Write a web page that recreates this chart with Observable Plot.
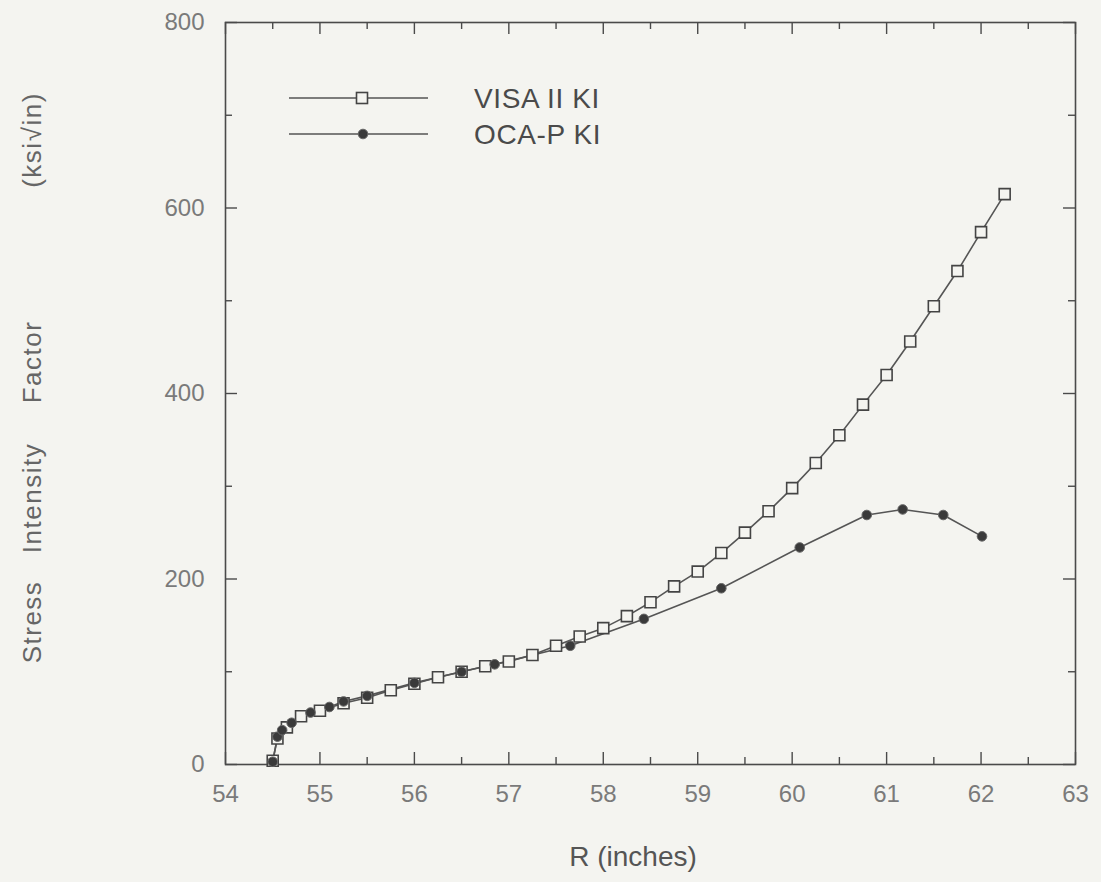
<!DOCTYPE html>
<html><head><meta charset="utf-8">
<script src="https://cdn.jsdelivr.net/npm/d3@7"></script>
<script src="https://cdn.jsdelivr.net/npm/@observablehq/plot@0.6"></script>
<style>
body{margin:0;background:#f4f4f0;}
#chart{position:relative;width:1101px;height:882px;}
</style></head><body><div id="chart"></div>
<script>
// ---- data ----
const seriesNames = ["VISA II KI", "OCA-P KI"];
const visaR = [54.5, 54.55, 54.65, 54.8, 55.0, 55.25, 55.5, 55.75, 56.0, 56.25, 56.5, 56.75, 57.0, 57.25, 57.5, 57.75, 58.0, 58.25, 58.5, 58.75, 59.0, 59.25, 59.5, 59.75, 60.0, 60.25, 60.5, 60.75, 61.0, 61.25, 61.5, 61.75, 62.0, 62.25];
const visaK = [4, 28, 40, 52, 58, 66, 72, 80, 87, 94, 100, 106, 111, 118, 128, 138, 147, 160, 175, 192, 208, 228, 250, 273, 298, 325, 355, 388, 420, 456, 494, 532, 574, 615];
const ocaR = [54.5, 54.55, 54.6, 54.7, 54.9, 55.1, 55.25, 55.5, 56.0, 56.5, 56.85, 57.65, 58.43, 59.25, 60.08, 60.79, 61.17, 61.6, 62.01];
const ocaK = [3, 30, 37, 45, 56, 62, 68, 74, 88, 100, 108, 128, 157, 190, 234, 269, 275, 269, 246];
const xTickLabels = [54, 55, 56, 57, 58, 59, 60, 61, 62, 63];
const xMinorTicks = [54.5, 55.5, 56.5, 57.5, 58.5, 59.5, 60.5, 61.5, 62.5];
const yTickLabels = [0, 200, 400, 600, 800];
const yMinorTicks = [100, 300, 500, 700];
const xTitle = "R (inches)";
const yTitleWords = ["Stress", "Intensity", "Factor", "(ksi\u221Ain)"];

const visa = visaR.map((r, i) => ({R: r, K: visaK[i]}));
const oca = ocaR.map((r, i) => ({R: r, K: ocaK[i]}));

// ---- layout ----
const W = 1101, H = 882, mL = 225, mR = 26, mT = 22, mB = 118;
const innerW = W - mL - mR, innerH = H - mT - mB;
const bg = "#f4f4f0", ink = "#4a4a4a", tickColor = "#7a7a7a";
const majorLen = 12, minorLen = 7;
const font = "'Liberation Sans', Arial, sans-serif";

const plot = Plot.plot({
  width: W, height: H,
  marginLeft: mL, marginRight: mR, marginTop: mT, marginBottom: mB,
  style: {background: "transparent", fontFamily: font},
  x: {domain: [54, 63]},
  y: {domain: [0, 800]},
  marks: [
    Plot.frame({stroke: ink, strokeWidth: 1.6}),
    // inward ticks bottom / top
    Plot.tickX(xTickLabels, {x: d => d, insetTop: innerH - majorLen, stroke: ink, strokeWidth: 1.4}),
    Plot.tickX(xMinorTicks, {x: d => d, insetTop: innerH - minorLen, stroke: ink, strokeWidth: 1.4}),
    Plot.tickX(xTickLabels, {x: d => d, insetBottom: innerH - majorLen, stroke: ink, strokeWidth: 1.4}),
    Plot.tickX(xMinorTicks, {x: d => d, insetBottom: innerH - minorLen, stroke: ink, strokeWidth: 1.4}),
    // inward ticks left / right
    Plot.tickY(yTickLabels, {y: d => d, insetRight: innerW - majorLen, stroke: ink, strokeWidth: 1.4}),
    Plot.tickY(yMinorTicks, {y: d => d, insetRight: innerW - minorLen, stroke: ink, strokeWidth: 1.4}),
    Plot.tickY(yTickLabels, {y: d => d, insetLeft: innerW - majorLen, stroke: ink, strokeWidth: 1.4}),
    Plot.tickY(yMinorTicks, {y: d => d, insetLeft: innerW - minorLen, stroke: ink, strokeWidth: 1.4}),
    Plot.axisX(xTickLabels, {tickSize: 0, tickPadding: 20, fontSize: 24, color: tickColor, label: null, tickFormat: d => String(d)}),
    Plot.axisY(yTickLabels, {tickSize: 0, tickPadding: 21, fontSize: 24, color: tickColor, label: null, tickFormat: d => String(d)}),
    // series
    Plot.line(oca, {x: "R", y: "K", stroke: "#555", strokeWidth: 1.6}),
    Plot.line(visa, {x: "R", y: "K", stroke: "#555", strokeWidth: 1.6}),
    Plot.dot(visa, {x: "R", y: "K", symbol: "square", r: 6.2, stroke: "#444", strokeWidth: 1.6, fill: bg}),
    Plot.dot(oca, {x: "R", y: "K", r: 4.8, fill: "#3a3a3a", stroke: "#666", strokeWidth: 1})
  ]
});

document.getElementById("chart").appendChild(plot);
const svg = d3.select(plot);

// ---- legend ----
const legend = svg.append("g").attr("class", "legend");
const legendRows = [
  {name: seriesNames[0], y: 98, kind: "square"},
  {name: seriesNames[1], y: 134, kind: "dot"}
];
legendRows.forEach(row => {
  legend.append("line").attr("x1", 289).attr("x2", 428).attr("y1", row.y).attr("y2", row.y)
    .attr("stroke", "#555").attr("stroke-width", 1.6);
  if (row.kind === "square") {
    legend.append("rect").attr("x", 362 - 5.5).attr("y", row.y - 5.5).attr("width", 11).attr("height", 11)
      .attr("fill", bg).attr("stroke", "#444").attr("stroke-width", 1.6);
  } else {
    legend.append("circle").attr("cx", 363).attr("cy", row.y).attr("r", 4.8)
      .attr("fill", "#3a3a3a").attr("stroke", "#666");
  }
  legend.append("text").attr("x", 474).attr("y", row.y).attr("dy", "0.36em")
    .attr("text-anchor", "start")
    .attr("font-size", 28).attr("fill", "#4a4a4a").attr("letter-spacing", 0.6)
    .attr("font-family", font)
    .text(row.name);
});

// ---- axis titles ----
svg.append("text").attr("x", 633).attr("y", 866)
  .attr("text-anchor", "middle").attr("font-size", 28).attr("fill", "#555")
  .attr("font-family", font)
  .text(xTitle);

const yWordCenters = [622, 498, 362, 140];
yTitleWords.forEach((w, i) => {
  svg.append("text")
    .attr("transform", `translate(32,${yWordCenters[i]}) rotate(-90)`)
    .attr("text-anchor", "middle").attr("dy", "0.36em")
    .attr("font-size", 26).attr("fill", "#666").attr("letter-spacing", 1.5)
    .attr("font-family", font)
    .text(w);
});
</script>
</body></html>
